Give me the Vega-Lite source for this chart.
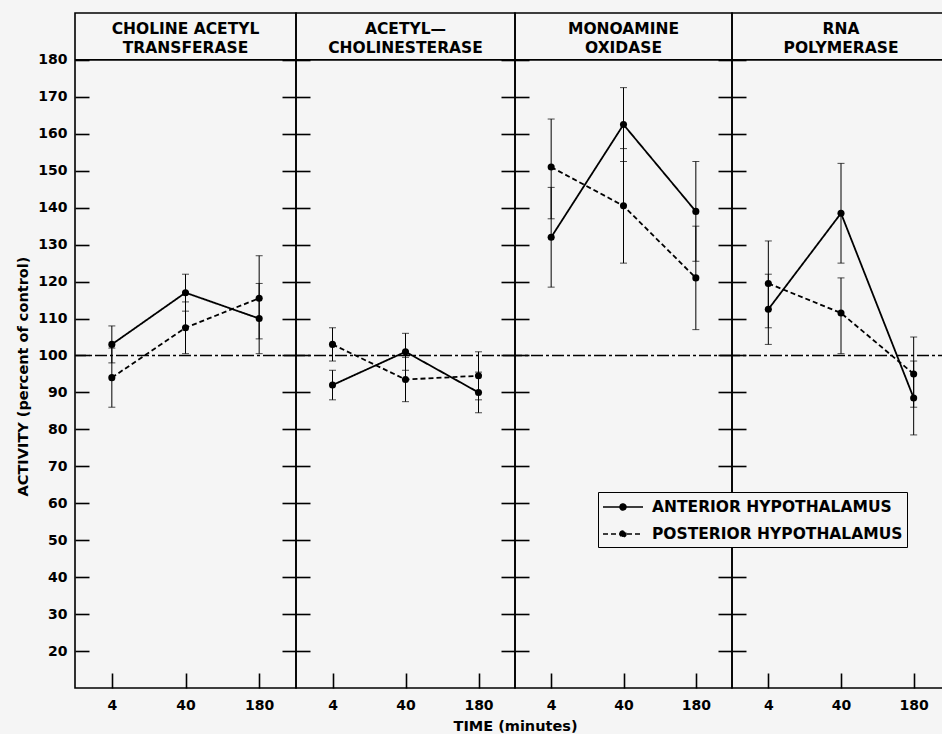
{
  "$schema": "https://vega.github.io/schema/vega-lite/v6.json",
  "padding": {"left": 14, "top": 12, "right": 0, "bottom": 0},
  "spacing": 0,
  "bounds": "flush",
  "resolve": {"scale": {"strokeDash": "shared"}, "legend": {"strokeDash": "shared"}},
  "datasets": {
    "obs": [
      {"panel": "ChAT", "time": 4, "region": "ANTERIOR HYPOTHALAMUS", "activity": 103, "low": 98, "high": 108},
      {"panel": "ChAT", "time": 4, "region": "POSTERIOR HYPOTHALAMUS", "activity": 94, "low": 86, "high": 102},
      {"panel": "ChAT", "time": 40, "region": "ANTERIOR HYPOTHALAMUS", "activity": 117, "low": 112, "high": 122},
      {"panel": "ChAT", "time": 40, "region": "POSTERIOR HYPOTHALAMUS", "activity": 107.5, "low": 100.5, "high": 114.5},
      {"panel": "ChAT", "time": 180, "region": "ANTERIOR HYPOTHALAMUS", "activity": 110, "low": 100.5, "high": 119.5},
      {"panel": "ChAT", "time": 180, "region": "POSTERIOR HYPOTHALAMUS", "activity": 115.5, "low": 104.5, "high": 127},
      {"panel": "AChE", "time": 4, "region": "ANTERIOR HYPOTHALAMUS", "activity": 92, "low": 88, "high": 96},
      {"panel": "AChE", "time": 4, "region": "POSTERIOR HYPOTHALAMUS", "activity": 103, "low": 98.5, "high": 107.5},
      {"panel": "AChE", "time": 40, "region": "ANTERIOR HYPOTHALAMUS", "activity": 101, "low": 96, "high": 106},
      {"panel": "AChE", "time": 40, "region": "POSTERIOR HYPOTHALAMUS", "activity": 93.5, "low": 87.5, "high": 99.5},
      {"panel": "AChE", "time": 180, "region": "ANTERIOR HYPOTHALAMUS", "activity": 90, "low": 84.5, "high": 95.5},
      {"panel": "AChE", "time": 180, "region": "POSTERIOR HYPOTHALAMUS", "activity": 94.5, "low": 88, "high": 101},
      {"panel": "MAO", "time": 4, "region": "ANTERIOR HYPOTHALAMUS", "activity": 132, "low": 118.5, "high": 145.5},
      {"panel": "MAO", "time": 4, "region": "POSTERIOR HYPOTHALAMUS", "activity": 151, "low": 137, "high": 164},
      {"panel": "MAO", "time": 40, "region": "ANTERIOR HYPOTHALAMUS", "activity": 162.5, "low": 152.5, "high": 172.5},
      {"panel": "MAO", "time": 40, "region": "POSTERIOR HYPOTHALAMUS", "activity": 140.5, "low": 125, "high": 156},
      {"panel": "MAO", "time": 180, "region": "ANTERIOR HYPOTHALAMUS", "activity": 139, "low": 125.5, "high": 152.5},
      {"panel": "MAO", "time": 180, "region": "POSTERIOR HYPOTHALAMUS", "activity": 121, "low": 107, "high": 135},
      {"panel": "RNAP", "time": 4, "region": "ANTERIOR HYPOTHALAMUS", "activity": 112.5, "low": 103, "high": 122},
      {"panel": "RNAP", "time": 4, "region": "POSTERIOR HYPOTHALAMUS", "activity": 119.5, "low": 107.5, "high": 131},
      {"panel": "RNAP", "time": 40, "region": "ANTERIOR HYPOTHALAMUS", "activity": 138.5, "low": 125, "high": 152},
      {"panel": "RNAP", "time": 40, "region": "POSTERIOR HYPOTHALAMUS", "activity": 111.5, "low": 100.5, "high": 121},
      {"panel": "RNAP", "time": 180, "region": "ANTERIOR HYPOTHALAMUS", "activity": 88.5, "low": 78.5, "high": 98.5},
      {"panel": "RNAP", "time": 180, "region": "POSTERIOR HYPOTHALAMUS", "activity": 95, "low": 86, "high": 105}
    ],
    "headers": [
      {"panel": "ChAT", "label": "CHOLINE ACETYL\nTRANSFERASE"},
      {"panel": "AChE", "label": "ACETYL—\nCHOLINESTERASE"},
      {"panel": "MAO", "label": "MONOAMINE\nOXIDASE"},
      {"panel": "RNAP", "label": "RNA\nPOLYMERASE"}
    ]
  },
  "hconcat": [
    {
      "width": 221, "height": 675,
      "layer": [
        {"data": {"name": "obs"}, "transform": [{"filter": "datum.panel == 'ChAT'"}],
         "mark": {"type": "line", "color": "black", "strokeWidth": 1.8},
         "encoding": {
           "x": {"field": "time", "type": "ordinal", "scale": {"type": "point", "domain": [4, 40, 180], "padding": 0.5}, "axis": {"values": [4, 40, 180], "offset": -15, "tickSize": 15, "labelPadding": 10, "title": null}},
           "y": {"field": "activity", "type": "quantitative", "scale": {"domain": [10, 192.7], "nice": false, "zero": false}, "axis": {"values": [20,30,40,50,60,70,80,90,100,110,120,130,140,150,160,170,180], "offset": -14, "tickSize": 14, "labelPadding": 8, "title": "ACTIVITY (percent of control)", "titleFontSize": 14.5, "titleY": 363, "titlePadding": 7}},
           "strokeDash": {"field": "region", "type": "nominal", "scale": {"domain": ["ANTERIOR HYPOTHALAMUS", "POSTERIOR HYPOTHALAMUS"], "range": [[1, 0], [5, 3]]},
             "legend": {"orient": "none", "legendX": 523, "legendY": 479, "title": null, "strokeColor": "black", "fillColor": "#f5f5f5", "padding": 4,
               "labelFontSize": 15.5, "labelFontWeight": "bold", "labelColor": "black", "labelOffset": 18, "labelLimit": 0,
               "symbolType": "M-2,0H2M-0.3,0A0.3,0.3 0 1,1 0.3,0A0.3,0.3 0 1,1 -0.3,0Z", "symbolSize": 400, "symbolOffset": 10,
               "symbolStrokeColor": "black", "symbolFillColor": "black", "symbolStrokeWidth": 1.5, "rowPadding": 7}}}},
        {"data": {"name": "obs"}, "transform": [{"filter": "datum.panel == 'ChAT'"}],
         "mark": {"type": "point", "filled": true, "color": "black", "size": 50, "opacity": 1},
         "encoding": {"x": {"field": "time", "type": "ordinal", "title": null}, "y": {"field": "activity", "type": "quantitative", "title": "ACTIVITY (percent of control)"}}},
        {"data": {"name": "obs"}, "transform": [{"filter": "datum.panel == 'ChAT'"}],
         "mark": {"type": "errorbar", "ticks": {"size": 7, "color": "black"}, "rule": {"strokeWidth": 1, "color": "black"}},
         "encoding": {"x": {"field": "time", "type": "ordinal", "title": null}, "y": {"field": "low", "type": "quantitative", "title": "ACTIVITY (percent of control)"}, "y2": {"field": "high"}}},
        {"data": {"values": [{}]}, "mark": {"type": "rule", "color": "black", "strokeWidth": 1.6},
         "encoding": {"y": {"datum": 180, "type": "quantitative", "title": "ACTIVITY (percent of control)"}}},
        {"data": {"values": [{}]}, "mark": {"type": "rule", "color": "black", "strokeWidth": 1.4, "strokeDash": [12, 3, 3, 3]},
         "encoding": {"y": {"datum": 100, "type": "quantitative", "title": "ACTIVITY (percent of control)"}}},
        {"data": {"name": "headers"}, "transform": [{"filter": "datum.panel == 'ChAT'"}],
         "mark": {"type": "text", "fontSize": 15.5, "fontWeight": "bold", "lineBreak": "\n", "lineHeight": 19, "baseline": "middle", "color": "black"},
         "encoding": {"x": {"datum": 40, "type": "ordinal", "title": null}, "y": {"datum": 188.5, "type": "quantitative", "title": "ACTIVITY (percent of control)"}, "text": {"field": "label"}}}
      ]
    },
    {
      "width": 219, "height": 675,
      "layer": [
        {"data": {"name": "obs"}, "transform": [{"filter": "datum.panel == 'AChE'"}],
         "mark": {"type": "line", "color": "black", "strokeWidth": 1.8},
         "encoding": {
           "x": {"field": "time", "type": "ordinal", "scale": {"type": "point", "domain": [4, 40, 180], "padding": 0.5}, "axis": {"values": [4, 40, 180], "offset": -15, "tickSize": 15, "labelPadding": 10, "title": "TIME (minutes)", "titleX": 219, "titleY": 53, "titleAlign": "center", "titleBaseline": "middle", "titleFontSize": 14.5}},
           "y": {"field": "activity", "type": "quantitative", "scale": {"domain": [10, 192.7], "nice": false, "zero": false}, "axis": {"values": [20,30,40,50,60,70,80,90,100,110,120,130,140,150,160,170,180], "offset": -14, "tickSize": 28, "labels": false, "title": null}},
           "strokeDash": {"field": "region", "type": "nominal", "scale": {"domain": ["ANTERIOR HYPOTHALAMUS", "POSTERIOR HYPOTHALAMUS"], "range": [[1, 0], [5, 3]]},
             "legend": {"orient": "none", "legendX": 523, "legendY": 479, "title": null, "strokeColor": "black", "fillColor": "#f5f5f5", "padding": 4,
               "labelFontSize": 15.5, "labelFontWeight": "bold", "labelColor": "black", "labelOffset": 18, "labelLimit": 0,
               "symbolType": "M-2,0H2M-0.3,0A0.3,0.3 0 1,1 0.3,0A0.3,0.3 0 1,1 -0.3,0Z", "symbolSize": 400, "symbolOffset": 10,
               "symbolStrokeColor": "black", "symbolFillColor": "black", "symbolStrokeWidth": 1.5, "rowPadding": 7}}}},
        {"data": {"name": "obs"}, "transform": [{"filter": "datum.panel == 'AChE'"}],
         "mark": {"type": "point", "filled": true, "color": "black", "size": 50, "opacity": 1},
         "encoding": {"x": {"field": "time", "type": "ordinal", "title": "TIME (minutes)"}, "y": {"field": "activity", "type": "quantitative", "title": null}}},
        {"data": {"name": "obs"}, "transform": [{"filter": "datum.panel == 'AChE'"}],
         "mark": {"type": "errorbar", "ticks": {"size": 7, "color": "black"}, "rule": {"strokeWidth": 1, "color": "black"}},
         "encoding": {"x": {"field": "time", "type": "ordinal", "title": "TIME (minutes)"}, "y": {"field": "low", "type": "quantitative", "title": null}, "y2": {"field": "high"}}},
        {"data": {"values": [{}]}, "mark": {"type": "rule", "color": "black", "strokeWidth": 1.6},
         "encoding": {"y": {"datum": 180, "type": "quantitative", "title": null}}},
        {"data": {"values": [{}]}, "mark": {"type": "rule", "color": "black", "strokeWidth": 1.4, "strokeDash": [12, 3, 3, 3]},
         "encoding": {"y": {"datum": 100, "type": "quantitative", "title": null}}},
        {"data": {"name": "headers"}, "transform": [{"filter": "datum.panel == 'AChE'"}],
         "mark": {"type": "text", "fontSize": 15.5, "fontWeight": "bold", "lineBreak": "\n", "lineHeight": 19, "baseline": "middle", "color": "black"},
         "encoding": {"x": {"datum": 40, "type": "ordinal", "title": "TIME (minutes)"}, "y": {"datum": 188.5, "type": "quantitative", "title": null}, "text": {"field": "label"}}}
      ]
    },
    {
      "width": 217, "height": 675,
      "layer": [
        {"data": {"name": "obs"}, "transform": [{"filter": "datum.panel == 'MAO'"}],
         "mark": {"type": "line", "color": "black", "strokeWidth": 1.8},
         "encoding": {
           "x": {"field": "time", "type": "ordinal", "scale": {"type": "point", "domain": [4, 40, 180], "padding": 0.5}, "axis": {"values": [4, 40, 180], "offset": -15, "tickSize": 15, "labelPadding": 10, "title": null}},
           "y": {"field": "activity", "type": "quantitative", "scale": {"domain": [10, 192.7], "nice": false, "zero": false}, "axis": {"values": [20,30,40,50,60,70,80,90,100,110,120,130,140,150,160,170,180], "offset": -14, "tickSize": 28, "labels": false, "title": null}},
           "strokeDash": {"field": "region", "type": "nominal", "scale": {"domain": ["ANTERIOR HYPOTHALAMUS", "POSTERIOR HYPOTHALAMUS"], "range": [[1, 0], [5, 3]]},
             "legend": {"orient": "none", "legendX": 523, "legendY": 479, "title": null, "strokeColor": "black", "fillColor": "#f5f5f5", "padding": 4,
               "labelFontSize": 15.5, "labelFontWeight": "bold", "labelColor": "black", "labelOffset": 18, "labelLimit": 0,
               "symbolType": "M-2,0H2M-0.3,0A0.3,0.3 0 1,1 0.3,0A0.3,0.3 0 1,1 -0.3,0Z", "symbolSize": 400, "symbolOffset": 10,
               "symbolStrokeColor": "black", "symbolFillColor": "black", "symbolStrokeWidth": 1.5, "rowPadding": 7}}}},
        {"data": {"name": "obs"}, "transform": [{"filter": "datum.panel == 'MAO'"}],
         "mark": {"type": "point", "filled": true, "color": "black", "size": 50, "opacity": 1},
         "encoding": {"x": {"field": "time", "type": "ordinal", "title": null}, "y": {"field": "activity", "type": "quantitative", "title": null}}},
        {"data": {"name": "obs"}, "transform": [{"filter": "datum.panel == 'MAO'"}],
         "mark": {"type": "errorbar", "ticks": {"size": 7, "color": "black"}, "rule": {"strokeWidth": 1, "color": "black"}},
         "encoding": {"x": {"field": "time", "type": "ordinal", "title": null}, "y": {"field": "low", "type": "quantitative", "title": null}, "y2": {"field": "high"}}},
        {"data": {"values": [{}]}, "mark": {"type": "rule", "color": "black", "strokeWidth": 1.6},
         "encoding": {"y": {"datum": 180, "type": "quantitative", "title": null}}},
        {"data": {"values": [{}]}, "mark": {"type": "rule", "color": "black", "strokeWidth": 1.4, "strokeDash": [12, 3, 3, 3]},
         "encoding": {"y": {"datum": 100, "type": "quantitative", "title": null}}},
        {"data": {"name": "headers"}, "transform": [{"filter": "datum.panel == 'MAO'"}],
         "mark": {"type": "text", "fontSize": 15.5, "fontWeight": "bold", "lineBreak": "\n", "lineHeight": 19, "baseline": "middle", "color": "black"},
         "encoding": {"x": {"datum": 40, "type": "ordinal", "title": null}, "y": {"datum": 188.5, "type": "quantitative", "title": null}, "text": {"field": "label"}}}
      ]
    },
    {
      "width": 218, "height": 675,
      "layer": [
        {"data": {"name": "obs"}, "transform": [{"filter": "datum.panel == 'RNAP'"}],
         "mark": {"type": "line", "color": "black", "strokeWidth": 1.8},
         "encoding": {
           "x": {"field": "time", "type": "ordinal", "scale": {"type": "point", "domain": [4, 40, 180], "padding": 0.5}, "axis": {"values": [4, 40, 180], "offset": -15, "tickSize": 15, "labelPadding": 10, "title": null}},
           "y": {"field": "activity", "type": "quantitative", "scale": {"domain": [10, 192.7], "nice": false, "zero": false}, "axis": {"values": [20,30,40,50,60,70,80,90,100,110,120,130,140,150,160,170,180], "offset": -14, "tickSize": 28, "labels": false, "title": null}},
           "strokeDash": {"field": "region", "type": "nominal", "scale": {"domain": ["ANTERIOR HYPOTHALAMUS", "POSTERIOR HYPOTHALAMUS"], "range": [[1, 0], [5, 3]]},
             "legend": {"orient": "none", "legendX": 523, "legendY": 479, "title": null, "strokeColor": "black", "fillColor": "#f5f5f5", "padding": 4,
               "labelFontSize": 15.5, "labelFontWeight": "bold", "labelColor": "black", "labelOffset": 18, "labelLimit": 0,
               "symbolType": "M-2,0H2M-0.3,0A0.3,0.3 0 1,1 0.3,0A0.3,0.3 0 1,1 -0.3,0Z", "symbolSize": 400, "symbolOffset": 10,
               "symbolStrokeColor": "black", "symbolFillColor": "black", "symbolStrokeWidth": 1.5, "rowPadding": 7}}}},
        {"data": {"name": "obs"}, "transform": [{"filter": "datum.panel == 'RNAP'"}],
         "mark": {"type": "point", "filled": true, "color": "black", "size": 50, "opacity": 1},
         "encoding": {"x": {"field": "time", "type": "ordinal", "title": null}, "y": {"field": "activity", "type": "quantitative", "title": null}}},
        {"data": {"name": "obs"}, "transform": [{"filter": "datum.panel == 'RNAP'"}],
         "mark": {"type": "errorbar", "ticks": {"size": 7, "color": "black"}, "rule": {"strokeWidth": 1, "color": "black"}},
         "encoding": {"x": {"field": "time", "type": "ordinal", "title": null}, "y": {"field": "low", "type": "quantitative", "title": null}, "y2": {"field": "high"}}},
        {"data": {"values": [{}]}, "mark": {"type": "rule", "color": "black", "strokeWidth": 1.6},
         "encoding": {"y": {"datum": 180, "type": "quantitative", "title": null}}},
        {"data": {"values": [{}]}, "mark": {"type": "rule", "color": "black", "strokeWidth": 1.4, "strokeDash": [12, 3, 3, 3]},
         "encoding": {"y": {"datum": 100, "type": "quantitative", "title": null}}},
        {"data": {"name": "headers"}, "transform": [{"filter": "datum.panel == 'RNAP'"}],
         "mark": {"type": "text", "fontSize": 15.5, "fontWeight": "bold", "lineBreak": "\n", "lineHeight": 19, "baseline": "middle", "color": "black"},
         "encoding": {"x": {"datum": 40, "type": "ordinal", "title": null}, "y": {"datum": 188.5, "type": "quantitative", "title": null}, "text": {"field": "label"}}}
      ]
    }
  ],
  "config": {
    "background": "#f5f5f5",
    "font": "DejaVu Sans",
    "view": {"stroke": "black", "strokeWidth": 1.6},
    "axis": {"grid": false, "domain": false, "tickColor": "black", "tickWidth": 1.6, "labelColor": "black", "labelFontWeight": "bold", "labelFontSize": 14, "titleColor": "black", "titleFontWeight": "bold", "labelAngle": 0}
  }
}
